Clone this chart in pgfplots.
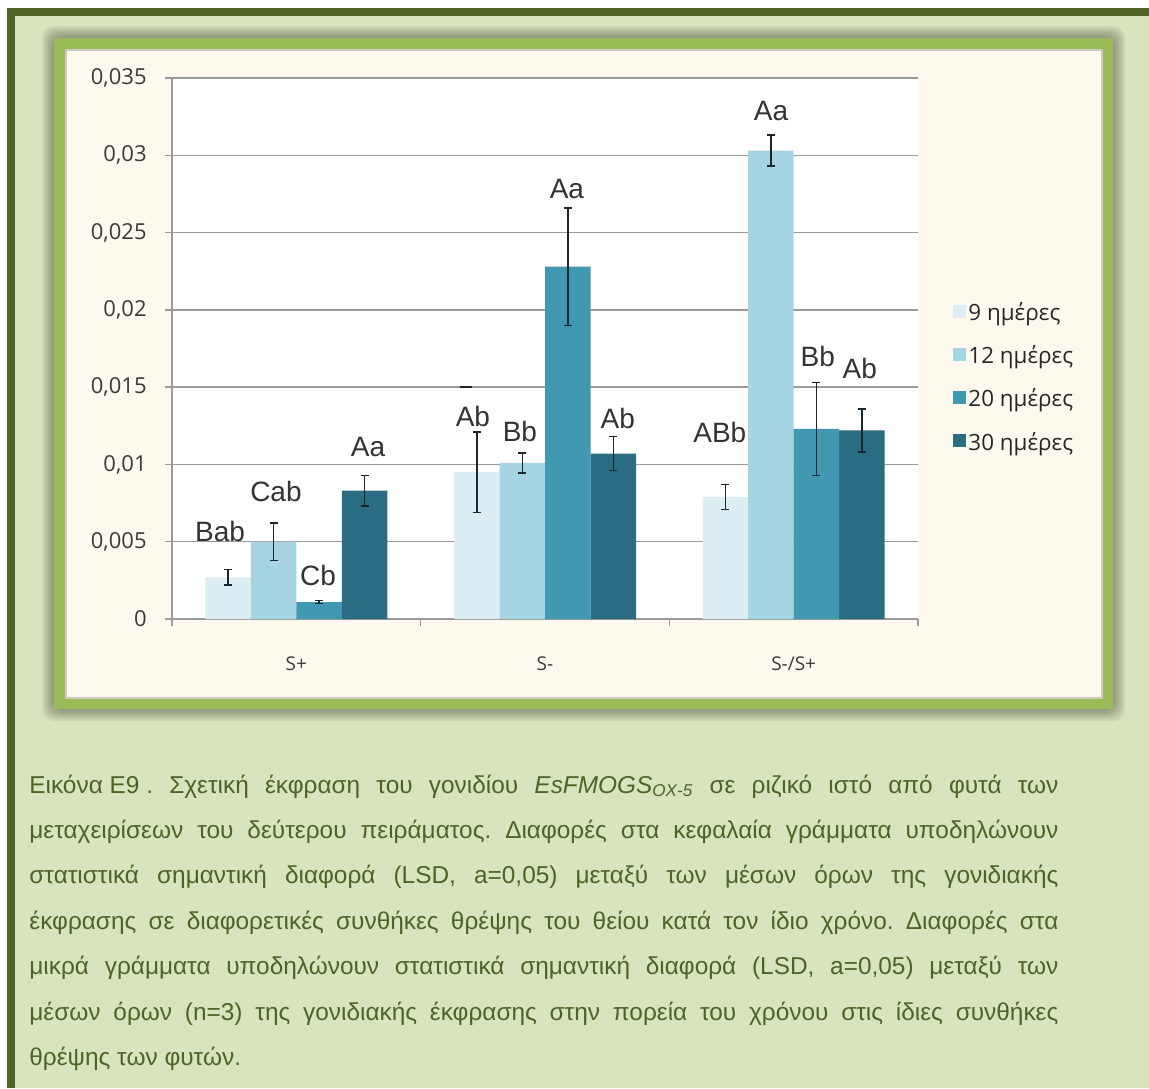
\documentclass[border=0pt]{standalone}
\usepackage{fontspec}
\usepackage{graphicx}
\usepackage{pgfplots}
\pgfplotsset{compat=1.18}
\usepackage{pgfplotstable}
\setmainfont{Liberation Sans}
\newfontfamily\osans{Open Sans}
\newfontfamily\lsans{Liberation Sans}

\definecolor{dkgreen}{HTML}{4F6228}
\definecolor{ltgreen}{HTML}{D7E4BD}
\definecolor{frgreen}{HTML}{9BBB59}
\definecolor{cream}{HTML}{FDF9EE}
\definecolor{creamedge}{HTML}{CFCBC1}
\definecolor{cA}{HTML}{DCEDF4}
\definecolor{cB}{HTML}{A6D4E3}
\definecolor{cC}{HTML}{4198B1}
\definecolor{cD}{HTML}{2A6D82}
\definecolor{errc}{HTML}{1B2631}
\definecolor{gridc}{HTML}{9A9A9A}
\definecolor{tickc}{HTML}{3A3A3A}
\definecolor{lblc}{HTML}{333333}

\newlength\capw
\setlength\capw{514.5pt}
\newsavebox\capbox
\newcommand\capline[1]{\sbox\capbox{#1}\ifdim\wd\capbox>\capw\resizebox{\capw}{\height}{\usebox\capbox}\else\makebox[\capw][s]{#1}\fi}

% group x, value, error
\pgfplotstableread{
x y e
0 0.0027 0.0005
1 0.0095 0.0026
2 0.0079 0.0008
}\dnine
\pgfplotstableread{
x y e
0 0.0050 0.0012
1 0.0101 0.00065
2 0.0303 0.0010
}\dtwelve
\pgfplotstableread{
x y e
0 0.0011 0.0001
1 0.0228 0.0038
2 0.0123 0.0030
}\dtwenty
\pgfplotstableread{
x y e
0 0.0083 0.0010
1 0.0107 0.0011
2 0.0122 0.0014
}\dthirty

\begin{document}
\frenchspacing
\begin{tikzpicture}
\begin{scope}[x=0.5pt,y=-0.5pt]
  \fill[white] (0,0) rectangle (1149,1088);
  \fill[dkgreen] (7,8) rectangle (1149,1088);
  \fill[ltgreen] (15,16) rectangle (1149,1088);
  % shadow around frame
  \foreach \k in {1,...,6}{
    \fill[black, opacity=0.06, rounded corners=6] ({54-2*\k},{38-2*\k}) rectangle ({1113+2*\k},{709+2*\k});
  }
  \fill[frgreen] (54,38) rectangle (1113,709);
  \fill[cream] (66,50) rectangle (1102,698);
  \draw[creamedge, line width=1pt] (66,50) rectangle (1102,698);
  % caption
  \begin{scope}[every node/.style={anchor=base west, inner sep=0pt, text=dkgreen, font=\lsans\fontsize{12.2}{15}\selectfont}]
  \node at (29,793) {\capline{\mbox{Εικόνα Ε9 .} Σχετική έκφραση του γονιδίου \textit{EsFMOGS}\textsubscript{\textit{OX-5}} σε ριζικό ιστό από φυτά των}};
  \node at (29,838) {\capline{μεταχειρίσεων του δεύτερου πειράματος. Διαφορές στα κεφαλαία γράμματα υποδηλώνουν}};
  \node at (29,883) {\capline{στατιστικά σημαντική διαφορά (LSD, a=0,05) μεταξύ των μέσων όρων της γονιδιακής}};
  \node at (29,929) {\capline{έκφρασης σε διαφορετικές συνθήκες θρέψης του θείου κατά τον ίδιο χρόνο. Διαφορές στα}};
  \node at (29,974) {\capline{μικρά γράμματα υποδηλώνουν στατιστικά σημαντική διαφορά (LSD, a=0,05) μεταξύ των}};
  \node at (29,1020) {\capline{μέσων όρων (n=3) της γονιδιακής έκφρασης στην πορεία του χρόνου στις ίδιες συνθήκες}};
  \node at (29,1065) {θρέψης των φυτών.};
  \end{scope}
\end{scope}

\begin{axis}[
  at={(86pt,-309.5pt)}, anchor=south west,
  scale only axis, width=373pt, height=270.5pt,
  xmin=-0.5, xmax=2.5, ymin=0, ymax=0.035,
  ybar=0pt, bar width=22.75pt,
  axis x line*=bottom, axis y line*=left,
  axis line style={gridc, line width=0.75pt, -},
  axis background/.style={fill=white},
  xtick={0,1,2}, xticklabels={S+,S-,S-/S+},
  minor xtick={-0.5,0.5,1.5,2.5},
  major x tick style={draw=none},
  ytick={0,0.005,0.01,0.015,0.02,0.025,0.03,0.035},
  ymajorgrids, grid style={gridc, line width=0.75pt},
  tick align=outside, major tick length=3.5pt, minor tick length=3.5pt,
  tick style={gridc, line width=0.75pt},
  scaled y ticks=false,
  /pgf/number format/use comma,
  /pgf/number format/fixed,
  /pgf/number format/precision=3,
  /pgf/number format/assume math mode=true,
  yticklabel style={font=\osans\fontsize{11}{13}\selectfont, text=tickc, anchor=east, inner sep=0pt, xshift=-9pt},
  xticklabel style={font=\osans\fontsize{9.5}{11}\selectfont, text=tickc, anchor=center, inner sep=0pt, yshift=-19pt},
  legend style={at={(axis description cs:1.047,0.443)}, anchor=west, draw=none, fill=none,
    font=\osans\fontsize{11.2}{13}\selectfont, text=black!85, row sep=8.6pt, inner sep=0pt,
    nodes={inner sep=1pt, text height=8.5pt, text depth=2.5pt}},
  legend image code/.code={\fill[#1] (0pt,-1.5pt) rectangle (6.5pt,5pt);},
  legend cell align=left,
  error bars/y dir=both, error bars/y explicit,
  error bars/error bar style={errc, line width=0.75pt},
  error bars/error mark options={errc, line width=0.75pt, mark size=2pt, rotate=90},
  clip=false,
]
\addplot[fill=cA, draw=none] table[x=x, y=y, y error=e] {\dnine};
\addplot[fill=cB, draw=none] table[x=x, y=y, y error=e] {\dtwelve};
\addplot[fill=cC, draw=none] table[x=x, y=y, y error=e] {\dtwenty};
\addplot[fill=cD, draw=none] table[x=x, y=y, y error=e] {\dthirty};
\legend{9 ημέρες, 12 ημέρες, 20 ημέρες, 30 ημέρες}

\draw[errc, line width=1.2pt] (axis cs:0.658,0.015) -- (axis cs:0.708,0.015);

\begin{scope}[every node/.style={font=\lsans\fontsize{14}{16}\selectfont, text=lblc, inner sep=0pt, anchor=center}]
\node at (axis cs:-0.307,0.00567) {Bab};
\node at (axis cs:-0.082,0.00825) {Cab};
\node at (axis cs:0.087,0.0028) {Cb};
\node at (axis cs:0.288,0.01116) {Aa};
\node at (axis cs:0.710,0.0131) {Ab};
\node at (axis cs:0.899,0.01215) {Bb};
\node at (axis cs:1.088,0.0278) {Aa};
\node at (axis cs:1.293,0.0130) {Ab};
\node at (axis cs:1.703,0.01206) {ABb};
\node at (axis cs:1.909,0.03285) {Aa};
\node at (axis cs:2.097,0.01700) {Bb};
\node at (axis cs:2.266,0.01618) {Ab};
\end{scope}
\end{axis}
\pgfresetboundingbox
\useasboundingbox (0,0) rectangle (574.5pt,-544pt);
\end{tikzpicture}
\end{document}
